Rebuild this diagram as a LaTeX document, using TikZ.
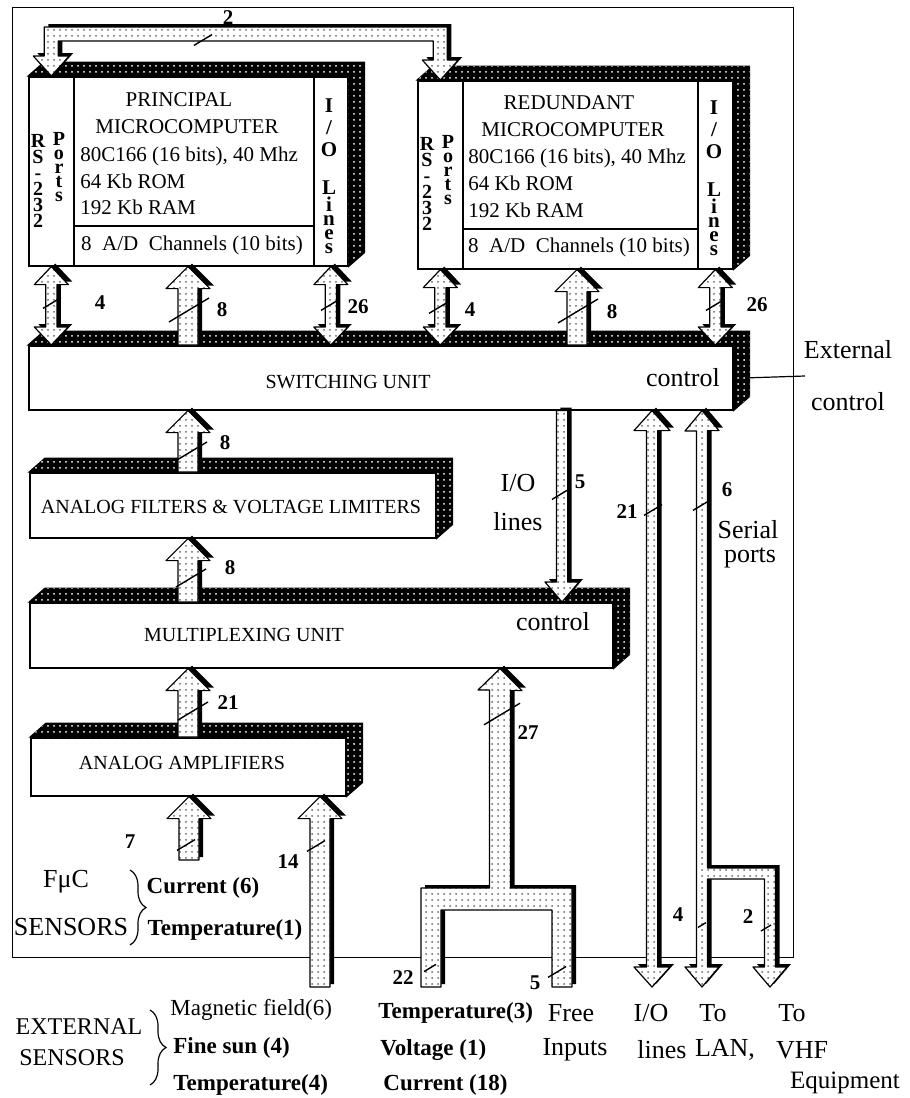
\documentclass[tikz,border=0pt]{standalone}
\usepackage{fontspec}
\setmainfont{Liberation Serif}
\usetikzlibrary{calc,patterns,shadows,decorations.pathreplacing}
% one unit of the picture is one pixel of the scan (0.5pt)
\newcommand{\slab}[2]{%
  \draw[face] (#1) -- ++(16,-14) -- ($(#2 |- #1)+(16,-14)$) -- ($(#2)+(16,-14)$)
    -- (#2) -- (#2 |- #1) -- cycle;}
\newcommand{\fatarrow}[5]{% tail, tip, shaft half, head half, head length
  \coordinate (fa-t) at #1;
  \coordinate (fa-h) at #2;
  \coordinate (fa-n) at ($(fa-h)!#5!(fa-t)$);
  \draw[bus] ($(fa-t)!#3!90:(fa-h)$) -- ($(fa-n)!#3!90:(fa-h)$) -- ($(fa-n)!#4!90:(fa-h)$)
    -- (fa-h) -- ($(fa-n)!#4!-90:(fa-h)$) -- ($(fa-n)!#3!-90:(fa-h)$)
    -- ($(fa-t)!#3!-90:(fa-h)$) -- cycle;}
\newcommand{\fatboth}[5]{% end, end, shaft half, head half, head length
  \coordinate (fa-t) at #1;
  \coordinate (fa-h) at #2;
  \coordinate (fa-n) at ($(fa-h)!#5!(fa-t)$);
  \coordinate (fa-m) at ($(fa-t)!#5!(fa-h)$);
  \draw[bus] (fa-t) -- ($(fa-m)!#4!90:(fa-h)$) -- ($(fa-m)!#3!90:(fa-h)$)
    -- ($(fa-n)!#3!90:(fa-h)$) -- ($(fa-n)!#4!90:(fa-h)$) -- (fa-h)
    -- ($(fa-n)!#4!-90:(fa-h)$) -- ($(fa-n)!#3!-90:(fa-h)$)
    -- ($(fa-m)!#3!-90:(fa-h)$) -- ($(fa-m)!#4!-90:(fa-h)$) -- cycle;}
\newcommand{\tick}[2][9]{\draw[tickmark] ($#2+(-#1,0.6*#1)$) -- ($#2+(#1,-0.6*#1)$);}
\tikzset{
  sz/.style 2 args={minimum width=#1*0.5pt,minimum height=#2*0.5pt},
  box/.style={draw,fill=white,line width=0.8pt,inner sep=0pt,anchor=north west},
  face/.style={fill=black,draw=black,line width=0.5pt,
    postaction={pattern=dots,pattern color=white}},
  bus/.style={draw=black,line width=0.6pt,line join=round,
    general shadow={fill=black,shadow xshift=2pt,shadow yshift=1.5pt},
    preaction={fill=white},pattern=dots,pattern color=black!60},
  micro/.style={font=\fontsize{10.5}{12}\selectfont,inner sep=0pt},
  vert/.style={font=\fontsize{10}{8}\selectfont\bfseries,align=center,inner sep=0pt},
  unit/.style={font=\fontsize{10}{12}\selectfont,inner sep=0pt},
  num/.style={font=\fontsize{10.5}{12}\selectfont\bfseries,inner sep=0pt},
  txt/.style={font=\fontsize{13}{15}\selectfont,inner sep=0pt},
  sens/.style={font=\fontsize{11.5}{13}\selectfont\bfseries,inner sep=0pt},
  tickmark/.style={line width=0.7pt}
}
\begin{document}
\begin{tikzpicture}[x=0.5pt,y=-0.5pt]
  \useasboundingbox (0,0) rectangle (910,1098);
  \node[box,line width=0.6pt,fill=none,sz={781}{950}] (frame) at (12,7) {};

  % principal microcomputer
  \node[box,sz={45}{189}] (prs) at (28,76) {};
  \node[box,sz={240}{149}] (pmain) at (73,76) {};
  \node[box,sz={240}{40}] (pad) at (73,225) {};
  \node[box,sz={34}{189}] (pio) at (313,76) {};
  \slab{prs.north west}{pio.south east}
  \node[vert] (prsA) at (38,181) {R\\S\\-\\2\\3\\2};
  \node[vert,font=\fontsize{10}{7}\selectfont\bfseries] (prsB) at (59,167) {P\\o\\r\\t\\s};
  \node[vert,font=\fontsize{10.5}{7}\selectfont\bfseries] (pioT) at (329,176)
    {I\\[4pt]/\\[3pt]O\\[12pt]L\\i\\n\\e\\s};
  \node[micro] (pname) at (179,100) {PRINCIPAL};
  \node[micro] (pname2) at (187,127) {MICROCOMPUTER};
  \node[micro,anchor=west] (pcpu) at (80,156) {80C166 (16 bits), 40 Mhz};
  \node[micro,anchor=west] (prom) at (80,181) {64 Kb ROM};
  \node[micro,anchor=west] (pram) at (80,207) {192 Kb RAM};
  \node[micro] (padT) at (192,245) {8\ \ A/D\ \ Channels (10 bits)};

  % redundant microcomputer
  \node[box,sz={45}{188}] (rrs) at (417,80) {};
  \node[box,sz={235}{148}] (rmain) at (462,80) {};
  \node[box,sz={235}{40}] (rad) at (462,228) {};
  \node[box,sz={35}{188}] (rio) at (697,80) {};
  \slab{rrs.north west}{rio.south east}
  \node[vert] (rrsA) at (427,184) {R\\S\\-\\2\\3\\2};
  \node[vert,font=\fontsize{10}{7}\selectfont\bfseries] (rrsB) at (448,170) {P\\o\\r\\t\\s};
  \node[vert,font=\fontsize{10.5}{7}\selectfont\bfseries] (rioT) at (714,178)
    {I\\[4pt]/\\[3pt]O\\[12pt]L\\i\\n\\e\\s};
  \node[micro] (rname) at (569,103) {REDUNDANT};
  \node[micro] (rname2) at (573,130) {MICROCOMPUTER};
  \node[micro,anchor=west] (rcpu) at (468,158) {80C166 (16 bits), 40 Mhz};
  \node[micro,anchor=west] (rrom) at (468,183) {64 Kb ROM};
  \node[micro,anchor=west] (rram) at (468,210) {192 Kb RAM};
  \node[micro] (radT) at (579,247) {8\ \ A/D\ \ Channels (10 bits)};

  % units
  \node[box,sz={704}{64}] (su) at (28,345) {};
  \slab{su.north west}{su.south east}
  \node[unit] (suT) at (348,382) {SWITCHING UNIT};
  \node[txt] (suC) at (683,378) {control};
  \node[box,sz={406}{65}] (af) at (29,472) {};
  \slab{af.north west}{af.south east}
  \node[unit] (afT) at (231,507) {ANALOG FILTERS \& VOLTAGE LIMITERS};
  \node[box,sz={583}{65}] (mu) at (29,602) {};
  \slab{mu.north west}{mu.south east}
  \node[unit] (muT) at (244,635) {MULTIPLEXING UNIT};
  \node[txt] (muC) at (553,622) {control};
  \node[box,sz={315}{58}] (aa) at (30,737) {};
  \slab{aa.north west}{aa.south east}
  \node[unit] (aaT) at (182,763) {ANALOG AMPLIFIERS};

  % external control
  \coordinate (extc) at (805,376);
  \draw[line width=0.6pt] ($(su.east)+(16,0)$) -- (extc);
  \node[txt] (extT) at (848,350) {External};
  \node[txt] (extT2) at (848,402) {control};

  % bus between the RS-232 ports
  \draw[bus] (prs.north) -- ++(18,-20) -- ++(-11,0) |- ($(rrs.north)+(-7,-39)$)
    -- ++(0,19) -- ++(-11,0) -- (rrs.north) -- ++(18,-20) -- ++(-11,0)
    |- ($(prs.north)+(-7,-49)$) -- ++(0,29) -- ++(-11,0) -- cycle;
  \tick{(203,40)}
  \node[num] (n2top) at (228,18) {2};

  % microcomputers to switching unit
  \fatboth{(prs.south)}{(prs.south |- su.north)}{2.8pt}{8.5pt}{9pt}
  \fatarrow{(188,0 |- su.north)}{(188,0 |- pad.south)}{5pt}{11pt}{11pt}
  \fatboth{(pio.south)}{(pio.south |- su.north)}{2.8pt}{8.5pt}{9pt}
  \fatboth{(rrs.south)}{(rrs.south |- su.north)}{2.8pt}{8.5pt}{9pt}
  \fatarrow{(577,0 |- su.north)}{(577,0 |- rad.south)}{5pt}{11pt}{11pt}
  \fatboth{(rio.south)}{(rio.south |- su.north)}{2.8pt}{8.5pt}{9pt}
  \tick{(52,303)} \tick[20]{(189,310)} \tick{(330,305)}
  \tick{(438,308)} \tick[20]{(578,311)} \tick{(715,305)}
  \node[num] (n4p) at (100,303) {4};
  \node[num] (n8p) at (222,310) {8};
  \node[num] (n26p) at (358,307) {26};
  \node[num] (n4r) at (470,310) {4};
  \node[num] (n8r) at (612,312) {8};
  \node[num] (n26r) at (757,305) {26};

  % analog chain
  \fatarrow{(188,0 |- af.north)}{(188,0 |- su.south)}{5pt}{11pt}{11pt}
  \fatarrow{(188,0 |- mu.north)}{(188,0 |- af.south)}{5pt}{11pt}{11pt}
  \fatarrow{(188,0 |- aa.north)}{(188,0 |- mu.south)}{5pt}{11pt}{11pt}
  \fatarrow{(189,860)}{(189,0 |- aa.south)}{5pt}{11pt}{11pt}
  \fatarrow{(320,987)}{(320,0 |- aa.south)}{5pt}{11pt}{11pt}
  \tick[15]{(192,451)} \tick[15]{(191,578)} \tick[15]{(193,711)}
  \tick{(186,845)} \tick{(316,846)}
  \node[num] (n8a) at (225,443) {8};
  \node[num] (n8b) at (230,568) {8};
  \node[num] (n21a) at (228,703) {21};
  \node[num] (n7) at (130,842) {7};
  \node[num] (n14) at (288,862) {14};

  % free and external inputs to the multiplexer
  \draw[bus] (500,0 |- mu.south) -- ++(22,22) -- ++(-11.5,0) -- (510.5,888) -- (572,888)
    -- (572,987) -- (552,987) -- (552,910) -- (441,910) -- (441,987) -- (421,987)
    -- (421,888) -- (489.5,888) -- (489.5,690) -- (478,690) -- cycle;
  \tick[18]{(502,714)} \tick[6]{(430,968)} \tick[9]{(557,972)}
  \node[num] (n27) at (528,733) {27};
  \node[num] (n22) at (403,978) {22};
  \node[num] (n5b) at (535,983) {5};

  % I/O lines and serial ports
  \fatarrow{(562,0 |- su.south)}{(562,0 |- mu.north)}{2.8pt}{8.5pt}{10pt}
  \fatboth{(652,0 |- su.south)}{(652,987)}{2.8pt}{9pt}{10pt}
  \draw[bus] (702,0 |- su.south) -- ++(17,20) -- ++(-11.5,0) -- (707.5,868) -- (775.5,868)
    -- (775.5,967) -- (787,967) -- (770,987) -- (753,967) -- (764.5,967) -- (764.5,879)
    -- (707.5,879) -- (707.5,967) -- (719,967) -- (702,987) -- (685,967) -- (696.5,967)
    -- (696.5,431) -- (685,431) -- cycle;
  \tick[9]{(561,494)} \tick[9]{(653,510)} \tick[9]{(702,505)}
  \tick[4]{(702,925)} \tick[5]{(766,928)}
  \node[num] (n5a) at (580,482) {5};
  \node[txt] (ioT) at (518,483) {I/O};
  \node[txt] (ioT2) at (518,522) {lines};
  \node[num] (n21b) at (627,512) {21};
  \node[num] (n6) at (727,490) {6};
  \node[txt] (spT) at (748,530) {Serial};
  \node[txt] (spT2) at (750,558) {ports};
  \node[num] (n4l) at (678,915) {4};
  \node[num] (n2v) at (748,917) {2};

  % sensor groups
  \node[txt] (fuc) at (66,882) {FμC};
  \node[txt] (fucS) at (71,927) {SENSORS};
  \draw[line width=0.6pt,decorate,decoration={brace,amplitude=8pt}] (130,870) -- (130,945);
  \node[sens] (fucC) at (203,888) {Current (6)};
  \node[sens] (fucT) at (225,930) {Temperature(1)};
  \node[txt,font=\fontsize{12}{14}\selectfont] (exS) at (79,1027) {EXTERNAL};
  \node[txt,font=\fontsize{12}{14}\selectfont] (exS2) at (72,1058) {SENSORS};
  \draw[line width=0.6pt,decorate,decoration={brace,amplitude=8pt}] (150,1010) -- (150,1085);
  \node[sens,anchor=west,font=\fontsize{11.5}{13}\selectfont] (exM) at (170,1010) {Magnetic field(6)};
  \node[sens,anchor=west] (exF) at (173,1048) {Fine sun (4)};
  \node[sens,anchor=west] (exT) at (173,1085) {Temperature(4)};
  \node[sens,anchor=west] (frT) at (378,1013) {Temperature(3)};
  \node[sens,anchor=west] (frV) at (380,1050) {Voltage (1)};
  \node[sens,anchor=west] (frC) at (383,1085) {Current (18)};
  \node[txt] (freeT) at (571,1013) {Free};
  \node[txt] (freeT2) at (575,1050) {Inputs};
  \node[txt] (ioB) at (651,1013) {I/O};
  \node[txt] (ioB2) at (662,1050) {lines};
  \node[txt] (lanT) at (713,1013) {To};
  \node[txt] (lanT2) at (725,1050) {LAN,};
  \node[txt] (vhfT) at (792,1013) {To};
  \node[txt] (vhfT2) at (802,1050) {VHF};
  \node[txt,font=\fontsize{12.5}{14}\selectfont] (vhfT3) at (845,1083) {Equipment};
\end{tikzpicture}
\end{document}
